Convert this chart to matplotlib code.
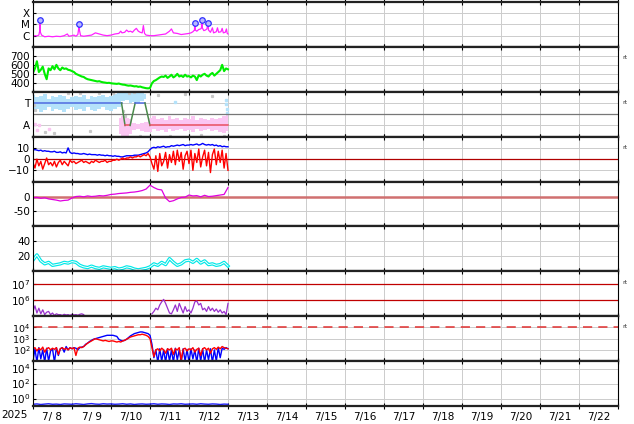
import numpy as np
import matplotlib
matplotlib.use("Agg")
import matplotlib.pyplot as plt
from matplotlib.ticker import NullLocator

# time grids (days since 7/8 00:00)
t05 = np.round(np.arange(0, 5.001, 0.05), 2)
t10 = np.round(np.arange(0, 5.001, 0.1), 1)

day_labels = ['7/ 8', '7/ 9', '7/10', '7/11', '7/12', '7/13', '7/14', '7/15',
              '7/16', '7/17', '7/18', '7/19', '7/20', '7/21', '7/22']

# 1. X-ray flux (log10 W/m2)
xray_t = [0.00, 0.05, 0.10, 0.15, 0.17, 0.18, 0.19, 0.22, 0.30, 0.40, 0.50, 0.60, 0.70, 0.80,
          0.88, 0.92, 1.00, 1.05, 1.10, 1.15, 1.17, 1.18, 1.19, 1.22, 1.30, 1.40, 1.50, 1.60,
          1.70, 1.80, 1.90, 2.00, 2.10, 2.20, 2.25, 2.28, 2.35, 2.40, 2.45, 2.50, 2.55, 2.60,
          2.65, 2.70, 2.75, 2.80, 2.83, 2.86, 2.90, 3.00, 3.10, 3.20, 3.30, 3.40, 3.50, 3.55,
          3.60, 3.70, 3.80, 3.90, 4.00, 4.05, 4.10, 4.14, 4.15, 4.16, 4.20, 4.25, 4.30, 4.32,
          4.33, 4.34, 4.38, 4.42, 4.46, 4.49, 4.50, 4.55, 4.60, 4.63, 4.70, 4.73, 4.76, 4.82,
          4.85, 4.88, 4.93, 4.96, 4.98, 5.00]
xray_log = [-6.05, -6.0, -6.02, -5.95, -5.6, -4.64, -5.7, -5.95, -6.1, -6.05, -6.1, -6.05, -6.08, -6.0,
            -5.85, -6.05, -6.0, -5.95, -6.05, -5.9, -5.4, -4.94, -5.5, -6.0, -6.05, -6.0, -5.95, -5.75,
            -5.85, -5.95, -6.0, -5.95, -5.85, -5.8, -5.6, -5.75, -5.7, -5.5, -5.65, -5.6, -5.7, -5.5,
            -5.35, -5.6, -5.7, -5.75, -5.1, -5.8, -5.95, -6.0, -6.0, -5.95, -5.9, -5.85, -5.6, -5.4,
            -5.75, -5.8, -5.9, -5.85, -5.8, -5.75, -5.65, -5.5, -4.85, -5.5, -5.6, -5.45, -5.4, -5.3,
            -4.64, -5.3, -5.55, -5.5, -5.4, -4.85, -5.5, -5.7, -5.3, -5.75, -5.65, -5.3, -5.7, -5.65,
            -5.35, -5.75, -5.7, -5.4, -5.8, -5.85]
flare_t = [0.18, 1.18, 4.15, 4.33, 4.49]
flare_log = [-4.64, -4.94, -4.85, -4.64, -4.85]

# 2. solar wind speed (km/s)
speed = [510, 560, 640, 520, 545, 580, 500, 440, 560, 540,
         585, 550, 600, 560, 540, 570, 555, 560, 545, 540,
         530, 520, 500, 490, 480, 470, 465, 450, 440, 435,
         430, 425, 420, 415, 418, 410, 405, 402, 398, 400,
         395, 392, 390, 388, 392, 385, 380, 378, 372, 368,
         370, 365, 360, 362, 355, 358, 350, 345, 340, 338,
         342, 395, 420, 430, 445, 460, 470, 465, 480, 455,
         470, 490, 460, 475, 500, 470, 480, 465, 490, 470,
         475, 460, 480, 470, 430, 485, 470, 490, 500, 480,
         470, 495, 510, 480, 500, 520, 540, 600, 530, 560,
         550]

# 3. IMF sector (T = +1, A = -1)
tow_t = [0.0, 0.1, 0.2, 0.3, 0.4, 0.5, 0.6, 0.7, 0.8, 0.9, 1.0, 1.1, 1.2, 1.3, 1.4,
         1.5, 1.6, 1.7, 1.8, 1.9, 2.0, 2.1, 2.2, 2.3, 2.4, 2.5, 2.6, 2.7, 2.8, 2.9]
tow_hi = [1.7, 1.5, 1.6, 1.8, 1.4, 1.6, 1.5, 1.7, 1.6, 1.4, 1.5, 1.6, 1.5, 1.7, 1.4,
          1.6, 1.5, 1.6, 1.7, 1.5, 1.6, 1.8, 1.9, 2.0, 2.0, 2.0, 1.9, 2.0, 1.9, 1.8]
tow_lo = [0.3, 0.5, 0.2, 0.4, 0.6, 0.3, 0.5, 0.4, 0.2, 0.5, 0.6, 0.4, 0.5, 0.3, 0.6,
          0.4, 0.3, 0.5, 0.6, 0.4, 0.3, 0.5, 0.6, 1.2, 1.3, 1.0, 1.1, 1.0, 1.2, 1.4]
awy_t = [2.2, 2.3, 2.4, 2.5, 2.6, 2.7, 2.8, 2.9, 3.0, 3.1, 3.2, 3.3, 3.4, 3.5, 3.6,
         3.7, 3.8, 3.9, 4.0, 4.1, 4.2, 4.3, 4.4, 4.5, 4.6, 4.7, 4.8, 4.9, 5.0]
awy_hi = [-0.3, -0.2, -0.3, -0.4, -0.8, -0.9, -0.8, -0.7, -0.3, -0.2, -0.4, -0.3, -0.5, -0.2, -0.4,
          -0.3, -0.5, -0.3, -0.4, -0.2, -0.5, -0.3, -0.4, -0.5, -0.3, -0.4, -0.3, -0.2, -0.1]
awy_lo = [-1.8, -1.9, -1.9, -1.8, -1.4, -1.3, -1.5, -1.6, -1.6, -1.3, -1.5, -1.4, -1.6, -1.3, -1.5,
          -1.4, -1.3, -1.5, -1.4, -1.6, -1.3, -1.5, -1.4, -1.3, -1.5, -1.4, -1.6, -1.7, -1.5]
tow_dot_t = [3.64, 4.95, 4.96, 4.97, 4.98]
tow_dot_v = [1.1, 1.3, 0.9, 0.5, 0.1]
awy_dot_t = [0.05, 0.1, 0.15, 0.4]
awy_dot_v = [-0.9, -1.4, -1.0, -1.3]
gray_t = [0.02, 0.05, 0.3, 0.55, 0.9, 1.2, 1.45, 1.7, 2.05, 2.3, 2.35, 2.45, 2.6, 2.75, 3.2,
          3.5, 3.9, 4.3, 4.6, 4.9]
gray_v = [0.8, 0.4, -1.6, -1.7, 1.9, 1.85, -1.5, 1.9, 1.85, 0.3, -0.2, 1.9, 1.95, -1.9, 1.7,
          -1.9, 1.8, -1.85, 1.6, -1.9]
sector_t = [0, 2.27, 2.36, 2.49, 2.62, 2.87, 3.0, 5.0]
sector_v = [1, 1, -1, -1, 1, 1, -1, -1]
sector_c = ['#4f6be0', '#4a8a4a', '#e85060', '#4a8a4a', '#4f6be0', '#4a8a4a', '#e85060']

# 4. IMF Bt / Bz (nT)
bt = [8, 8.5, 8, 7.5, 8, 7, 7.5, 7, 7, 6.5,
      6.5, 7, 6, 6, 6.5, 5.5, 6, 5.5, 10, 6,
      5, 5.5, 5, 5, 4.5, 4.5, 5, 4.5, 4, 4.5,
      4, 4, 4, 3.5, 4, 3.5, 3.5, 3, 3.5, 3,
      3, 2.5, 3, 2.5, 2.5, 2, 2, 2.5, 3, 3,
      3, 3, 3.5, 3.5, 3.5, 4, 4.5, 5, 5.5, 6.5,
      8.5, 10, 10.5, 10, 11, 10.5, 11, 11.5, 10.5, 11,
      11, 12, 11.5, 12, 12.5, 12, 12.5, 13, 12, 12.5,
      12.5, 13, 12.5, 13, 13.5, 12.5, 13, 14, 13, 12.5,
      13, 12.5, 13, 12, 12.5, 11.5, 12, 11, 11.5, 11,
      11]
bz = [-3, -8, 0, -6, -2, -9, -4, 1, -5, -3,
      -6, -2, -7, -3, -1, -5, -2, -4, -6, -1,
      -3, -2, -4, -3, -2, -1, -3, -2, -3, -4,
      -2, -3, -1, -2, -3, -2, -2, -1, -3, -2,
      -2, -1, -1, 0, -1, 0, 1, 0, 1, 1,
      2, 1, 2, 2, 3, 2, 3, 4, 3, 5,
      2, -4, -9, 3, -11, 5, -6, -2, 6, -8,
      4, -3, 7, -5, 8, -2, 6, -9, 3, 7,
      -4, 8, -10, 5, -3, 9, -7, 2, 8, -6,
      6, -12, 4, 9, -5, 7, -3, 8, -8, 5,
      -10]

# 5. Dst-like index (nT)
dst = [-4, -3, -6, -4, -8, -10, -12, -15, -13, -12,
       -5, 0, 1, -1, 2, 0, 1, 3, 2, 4,
       7, 8, 10, 11, 12, 14, 15, 17, 20, 25,
       38, 30, 24, 22, -5, -17, -14, -8, -3, -2,
       5, 2, 3, -1, 4, 0, 1, 3, 5, 7,
       30]

# 6. cyan index
cyan = [15, 22, 14, 10, 12, 8, 9, 10, 12, 11,
        13, 12, 8, 6, 5, 7, 5, 4, 6, 5,
        4, 5, 3, 4, 6, 5, 3, 2, 3, 4,
        6, 10, 8, 12, 9, 17, 12, 8, 10, 14,
        15, 12, 16, 11, 14, 9, 10, 8, 9, 12,
        7]

# 7. electron fluence (log10), two stretches with a data gap
e_t1 = t05[:27]
e_log1 = [5.3, 5.65, 5.2, 5.5, 5.15, 5.4, 5.1, 5.25, 5.3, 5.1, 5.2, 5.05, 5.15, 5.1,
          5.1, 5.05, 5.12, 5.08, 5.1, 5.05, 5.12, 5.08, 5.1, 5.06, 5.12, 5.15, 5.1]
e_t2 = t05[61:]
e_log2 = [5.15, 5.3, 5.5, 5.4, 5.7, 5.9, 6.05, 5.8, 5.5, 5.2,
          5.15, 5.4, 5.7, 5.3, 5.8, 5.5, 5.2, 5.6, 5.3, 5.4,
          5.2, 5.5, 5.9, 5.95, 5.7, 5.8, 5.4, 5.5, 5.3, 5.6,
          5.35, 5.5, 5.3, 5.45, 5.25, 5.4, 5.2, 5.3, 5.1, 5.8]

# 8. particle flux (log10), blue and red channels
p_blue = [1.0, 2.1, 0.9, 2.2, 1.2, 2.0, 0.9, 2.15, 1.0, 1.9,
          2.1, 0.9, 2.2, 1.5, 2.1, 2.2, 1.8, 2.3, 2.0, 2.2,
          2.1, 2.2, 2.15, 2.0, 2.2, 2.25, 2.3, 2.5, 2.6, 2.75,
          2.85, 2.95, 3.0, 3.05, 3.1, 3.15, 3.2, 3.25, 3.3, 3.3,
          3.3, 3.3, 3.25, 3.2, 2.95, 2.85, 2.8, 2.85, 2.95, 3.1,
          3.25, 3.35, 3.45, 3.5, 3.55, 3.6, 3.6, 3.55, 3.5, 3.45,
          3.3, 2.5, 1.3, 2.0, 0.9, 2.1, 1.0, 2.0, 0.9, 2.1,
          1.0, 2.0, 0.9, 2.15, 1.1, 2.0, 0.9, 2.1, 1.0, 2.05,
          0.9, 2.1, 1.2, 2.0, 0.9, 2.15, 1.0, 2.1, 0.9, 2.0,
          1.1, 2.1, 0.9, 2.0, 1.0, 2.2, 1.3, 2.15, 2.05, 2.2,
          2.1]
p_red = [2.1, 2.2, 1.9, 2.15, 2.0, 2.25, 1.8, 2.1, 2.2, 2.0,
         2.15, 2.05, 2.2, 1.6, 2.1, 2.2, 2.05, 2.15, 2.0, 2.2,
         2.1, 2.2, 1.5, 2.15, 2.25, 2.2, 2.3, 2.45, 2.6, 2.7,
         2.8, 2.9, 3.0, 2.95, 2.9, 2.85, 2.8, 2.85, 2.8, 2.75,
         2.8, 2.8, 2.75, 2.7, 2.75, 2.7, 2.8, 2.85, 2.95, 3.05,
         3.15, 3.2, 3.25, 3.3, 3.35, 3.35, 3.4, 3.35, 3.3, 3.2,
         3.0, 2.2, 1.4, 2.0, 2.1, 1.9, 2.15, 2.0, 1.7, 2.1,
         2.0, 2.15, 1.6, 2.1, 2.0, 2.2, 1.1, 2.05, 2.15, 1.9,
         2.1, 2.0, 2.2, 1.8, 2.05, 2.15, 1.5, 2.1, 2.2, 2.0,
         2.15, 1.7, 2.1, 2.2, 2.05, 2.25, 2.1, 2.3, 2.2, 2.15,
         2.1]

# 9. proton flux
proton = [0.17, 0.19, 0.16, 0.18, 0.2, 0.17, 0.18, 0.16, 0.19, 0.18,
          0.17, 0.2, 0.18, 0.16, 0.19, 0.21, 0.18, 0.17, 0.2, 0.18,
          0.19, 0.17, 0.18, 0.2, 0.17, 0.19, 0.16, 0.18, 0.19, 0.17,
          0.18, 0.2, 0.17, 0.19, 0.18, 0.16, 0.19, 0.18, 0.2, 0.17,
          0.18, 0.19, 0.17, 0.2, 0.18, 0.17, 0.19, 0.18, 0.16, 0.18,
          0.17]

# ---- figure ----
plt.rcParams['font.size'] = 7.5
fig, axs = plt.subplots(9, 1, figsize=(6.34, 4.24), dpi=100, sharex=True)
fig.subplots_adjust(left=33/634, right=618/634, top=1-2/424, bottom=18/424, hspace=0)

for ax in axs:
    ax.set_xlim(0, 15)
    ax.set_xticks(np.arange(0, 16, 1))
    ax.grid(True, color='#cccccc', lw=0.7)
    ax.set_axisbelow(True)
    ax.tick_params(axis='x', which='major', direction='inout', length=4, top=True,
                   bottom=True, labelbottom=False, width=0.8)
    ax.tick_params(axis='y', direction='in', length=2, pad=2, labelsize=7.5)
    for s in ['top', 'bottom']:
        ax.spines[s].set_linewidth(1.6)
        ax.spines[s].set_color('#222222')
    for s in ['left', 'right']:
        ax.spines[s].set_linewidth(0.8)

# panel 1: X-ray
ax = axs[0]
ax.set_yscale('log')
ax.plot(xray_t, 10 ** np.array(xray_log), color='#ff22ff', lw=0.9)
ax.plot(flare_t, 10 ** np.array(flare_log), 'o', ms=4, mfc='#b8b8ff', mec='#3030ff', mew=0.9)
ax.set_ylim(1e-7, 1e-3)
ax.set_yticks([1e-6, 1e-5, 1e-4])
ax.set_yticklabels(['C', 'M', 'X'])
ax.yaxis.set_minor_locator(NullLocator())

# panel 2: speed
ax = axs[1]
ax.plot(t05, speed, color='#00ee00', lw=1.5)
ax.set_ylim(300, 800)
ax.set_yticks([400, 500, 600, 700])

# panel 3: sector
ax = axs[2]
ax.fill_between(tow_t, tow_lo, tow_hi, step='mid', color='#b4e2fa', lw=0)
ax.fill_between(awy_t, awy_lo, awy_hi, step='mid', color='#fbc6f2', lw=0)
ax.plot(tow_dot_t, tow_dot_v, 's', ms=1.5, color='#b4e2fa')
ax.plot(awy_dot_t, awy_dot_v, 's', ms=1.5, color='#fbc6f2')
ax.plot(gray_t, gray_v, 's', ms=1.3, color='#c8c8c8')
ax.axhline(0, color='#777777', lw=0.9)
for i in range(len(sector_c)):
    ax.plot(sector_t[i:i + 2], sector_v[i:i + 2], color=sector_c[i], lw=1.1)
ax.set_ylim(-2, 2)
ax.set_yticks([1, -1])
ax.set_yticklabels(['T', 'A'])

# panel 4: IMF
ax = axs[3]
ax.axhline(0, color='#b00000', lw=0.9)
ax.plot(t05, bt, color='#0000ff', lw=1.0)
ax.plot(t05, bz, color='#ff0000', lw=1.0)
ax.set_ylim(-20, 20)
ax.set_yticks([10, 0, -10])
ax.set_yticklabels(['10', '0', '\u221210'])

# panel 5: Dst
ax = axs[4]
ax.axhline(0, color='#d07070', lw=1.8)
ax.plot(t10, dst, color='#e000e0', lw=0.9)
ax.set_ylim(-100, 50)
ax.set_yticks([0, -50])
ax.set_yticklabels(['0', '-50'])

# panel 6: cyan (hollow line)
ax = axs[5]
ax.plot(t10, cyan, color='#00e8e8', lw=2.4)
ax.plot(t10, cyan, color='white', lw=0.7)
ax.set_ylim(0, 60)
ax.set_yticks([20, 40])

# panel 7: electrons
ax = axs[6]
ax.set_yscale('log')
ax.axhline(1e6, color='#c00000', lw=0.9)
ax.axhline(1e7, color='#c00000', lw=0.9)
ax.plot(e_t1, 10 ** np.array(e_log1), color='#9932cc', lw=0.9)
ax.plot(e_t2, 10 ** np.array(e_log2), color='#9932cc', lw=0.9)
ax.set_ylim(1e5, 10 ** 7.8)
ax.set_yticks([1e6, 1e7])
ax.yaxis.set_minor_locator(NullLocator())

# panel 8: particles
ax = axs[7]
ax.set_yscale('log')
ax.axhline(1e4, color='#e03030', lw=1.1, dashes=(6, 4))
ax.plot(t05, 10 ** np.array(p_blue), color='#0000ff', lw=1.0)
ax.plot(t05, 10 ** np.array(p_red), color='#ff0000', lw=1.0)
ax.set_ylim(1e1, 1e5)
ax.set_yticks([1e2, 1e3, 1e4])
ax.yaxis.set_minor_locator(NullLocator())
ax.tick_params(axis='y', labelsize=6.8)

# panel 9: protons
ax = axs[8]
ax.set_yscale('log')
ax.plot(t10, proton, color='#2020ff', lw=1.0)
ax.set_ylim(1e-1, 1e5)
ax.set_yticks([1, 1e2, 1e4])
ax.yaxis.set_minor_locator(NullLocator())
ax.set_xticks(np.arange(0.5, 15, 1), minor=True)
ax.set_xticklabels(day_labels, minor=True)
ax.tick_params(axis='x', which='minor', length=0, labelbottom=True, labelsize=7.5, pad=4)
ax.text(-0.031, -0.1, '2025', transform=ax.transAxes, ha='center', va='top', fontsize=7.5)

# small "rt" tags on the right
for i in [1, 2, 3, 6, 7]:
    axs[i].text(1.008, 0.76, 'rt', transform=axs[i].transAxes, fontsize=4.5,
                color='#333333', va='center')

plt.savefig('out.png', dpi=100)
